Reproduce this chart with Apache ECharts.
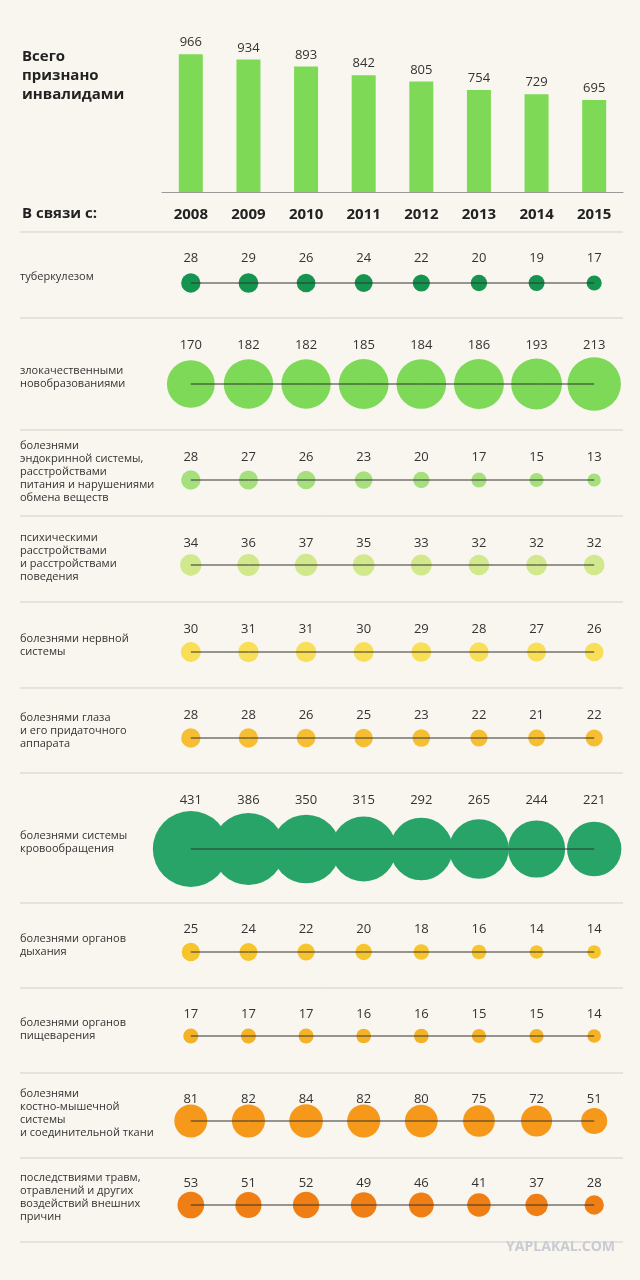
<!DOCTYPE html>
<html><head><meta charset="utf-8">
<script src="https://cdn.jsdelivr.net/npm/echarts@6/dist/echarts.min.js"></script>
<style>html,body{margin:0;padding:0;background:#f8f6ef}#c{width:640px;height:1280px}</style>
</head><body><div id="c"></div>
<script>
const years = ['2008','2009','2010','2011','2012','2013','2014','2015'];
const totals = [966,934,893,842,805,754,729,695];
const rowNames = [
 'туберкулезом',
 'злокачественными\nновобразованиями',
 'болезнями\nэндокринной системы,\nрасстройствами\nпитания и нарушениями\nобмена веществ',
 'психическими\nрасстройствами\nи расстройствами\nповедения',
 'болезнями нервной\nсистемы',
 'болезнями глаза\nи его придаточного\nаппарата',
 'болезнями системы\nкровообращения',
 'болезнями органов\nдыхания',
 'болезнями органов\nпищеварения',
 'болезнями\nкостно-мышечной\nсистемы\nи соединительной ткани',
 'последствиями травм,\nотравлений и других\nвоздействий внешних\nпричин'
];
const tb = [28,29,26,24,22,20,19,17];
const cancer = [170,182,182,185,184,186,193,213];
const endocrine = [28,27,26,23,20,17,15,13];
const mental = [34,36,37,35,33,32,32,32];
const nervous = [30,31,31,30,29,28,27,26];
const eye = [28,28,26,25,23,22,21,22];
const circulatory = [431,386,350,315,292,265,244,221];
const respiratory = [25,24,22,20,18,16,14,14];
const digestive = [17,17,17,16,16,15,15,14];
const musculo = [81,82,84,82,80,75,72,51];
const injury = [53,51,52,49,46,41,37,28];
const rowData = [tb,cancer,endocrine,mental,nervous,eye,circulatory,respiratory,digestive,musculo,injury];
const colors = ['#14944e','#7dd957','#a6e07e','#d2e88c','#f8df57','#f6bf33','#29a469','#f6c52d','#f4b226','#f6991b','#ef7f14'];
const centers = [283,384,480,565,652,738,849,952,1036,1121,1205];
const labelOff = [-25,-39,-23,-22,-23,-23,-49,-23,-22,-22,-22];
const seps = [232,318,430,516,602,688,773,903,988,1073,1158,1242];
const font = '"Open Sans", sans-serif';

const grids=[{left:162,right:17,top:40,height:152}];
const xAxes=[{type:'category',data:years,gridIndex:0,axisTick:{show:false},
  axisLine:{lineStyle:{color:'#999',width:1}},
  axisLabel:{margin:15,fontSize:15,fontWeight:'bold',color:'#222',fontFamily:font}}];
const yAxes=[{type:'value',gridIndex:0,min:150,max:1050,show:false}];
const series=[{type:'bar',data:totals,xAxisIndex:0,yAxisIndex:0,barWidth:24,
  itemStyle:{color:'#7ed957'},label:{show:true,position:'top',color:'#333',fontSize:13,fontFamily:font}}];
rowData.forEach((d,i)=>{
  const g=i+1;
  grids.push({left:162,right:17,top:centers[i]-1,height:2});
  xAxes.push({type:'category',data:years,gridIndex:g,show:false});
  yAxes.push({type:'value',gridIndex:g,min:-1,max:1,show:false});
  series.push({type:'scatter',xAxisIndex:g,yAxisIndex:g,data:d.map((v,k)=>[k,0,v]),
    symbolSize:p=>3.66*Math.sqrt(p[2]),itemStyle:{color:colors[i],opacity:1},z:2,
    label:{show:true,position:'inside',offset:[0,labelOff[i]],formatter:p=>p.value[2],
      color:'#333',fontSize:13,fontFamily:font}});
  series.push({type:'line',xAxisIndex:g,yAxisIndex:g,data:d.map(()=>0),symbol:'none',
    lineStyle:{color:'#333',width:1},z:3,silent:true});
});
const graphic=[
 {type:'text',left:22,top:47,style:{text:'Всего\nпризнано\nинвалидами',font:'bold 15px '+font,fill:'#222',lineHeight:19}},
 {type:'text',left:22,top:206,style:{text:'В связи с:',font:'bold 15px '+font,fill:'#222'}},
 {type:'text',right:25,top:1240,style:{text:'YAPLAKAL.COM',font:'bold 14px '+font,fill:'#c9cbd3'}}
];
seps.forEach(y=>graphic.push({type:'line',shape:{x1:20,y1:y,x2:623,y2:y},style:{stroke:'#cfcfcf',lineWidth:1}}));
rowNames.forEach((t,i)=>{
  const n=t.split('\n').length;
  graphic.push({type:'text',left:20,top:centers[i]-6-n*7,style:{text:t,font:'11px '+font,fill:'#333',lineHeight:13}});
});
const chart=echarts.init(document.getElementById('c'));
chart.setOption({backgroundColor:'#f8f6ef',animation:false,grid:grids,xAxis:xAxes,yAxis:yAxes,series:series,graphic:graphic});
</script></body></html>
